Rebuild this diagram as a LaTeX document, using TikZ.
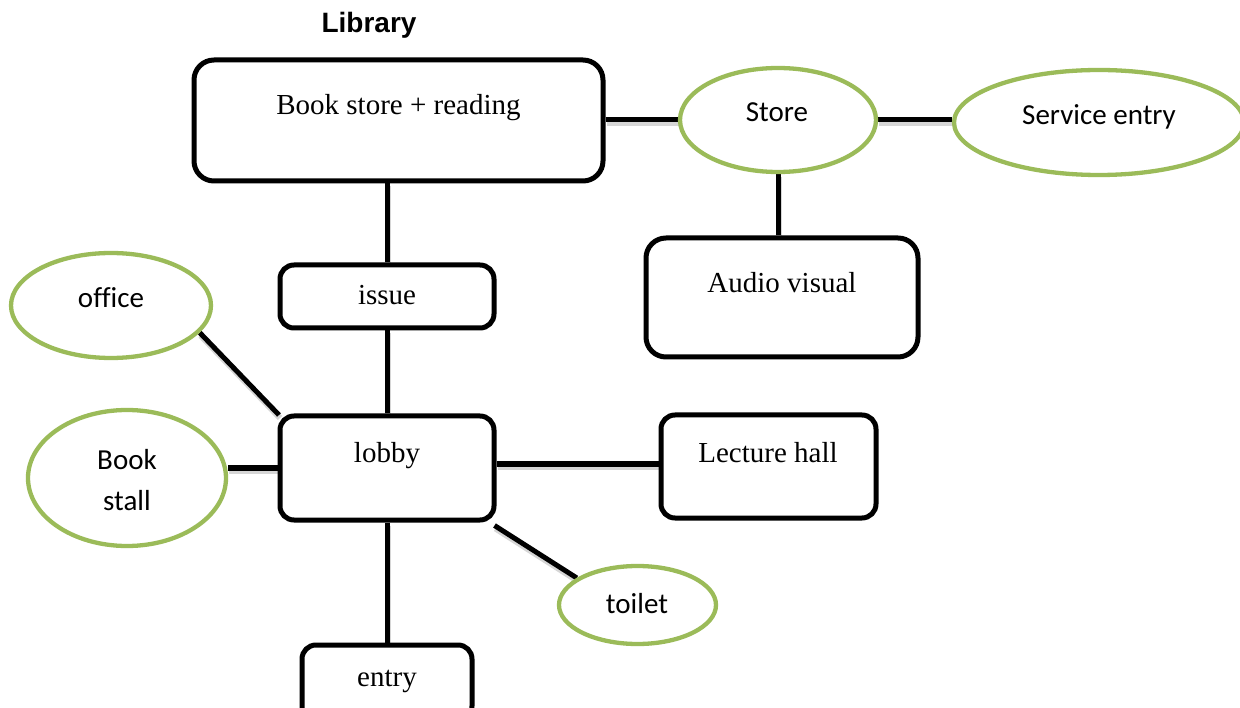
\documentclass[tikz,border=0pt]{standalone}
\usepackage{fontspec}
\setmainfont{Liberation Serif}
\newfontfamily\ovalfont[Ligatures=NoCommon]{Carlito}
\newfontfamily\titlefont{Liberation Sans}
\usetikzlibrary{shapes.geometric}
\definecolor{ovalgreen}{HTML}{9BBB59}
\pgfdeclarelayer{links}
\pgfsetlayers{links,main}
\begin{document}
\begin{tikzpicture}[x=1pt,y=-1pt,
  roombox/.style={draw=black, line width=5pt, rounded corners=14pt, inner sep=0pt, fill=white},
  bigbox/.style={roombox, rounded corners=20pt},
  oval/.style={ellipse, draw=ovalgreen, line width=4.3pt, inner sep=0pt, fill=white},
  boxtext/.style={anchor=base, inner sep=0pt, font=\fontsize{29}{35}\selectfont},
  ovaltext/.style={anchor=base, inner sep=0pt, font=\ovalfont\fontsize{29}{35}\selectfont},
  link/.style={draw=black, line width=5pt,
    preaction={draw=black!16, line width=6pt, transform canvas={shift={(1pt,-3pt)}}}}
]
\useasboundingbox (0,0) rectangle (1240,708);
\clip (0,0) rectangle (1240,708);

% title
\node[anchor=base, inner sep=0pt, font=\titlefont\bfseries\fontsize{28}{34}\selectfont] (title) at (369,33) {Library};

% rooms
\node[bigbox, minimum width=409pt, minimum height=121pt] (bsr) at (398.5,120.5) {};
\node[roombox, minimum width=214pt, minimum height=63pt] (issue) at (387,296.5) {};
\node[roombox, minimum width=214pt, minimum height=104pt] (lobby) at (387,468) {};
\node[bigbox, minimum width=272pt, minimum height=119pt] (audio) at (782,297.5) {};
\node[roombox, minimum width=215pt, minimum height=103pt] (lecture) at (768.5,466.5) {};
\node[roombox, minimum width=170pt, minimum height=75pt] (entry) at (387,682.5) {};

% ovals
\node[oval, minimum width=196pt, minimum height=104pt] (store) at (778,120) {};
\node[oval, minimum width=290pt, minimum height=105pt] (service) at (1099,122.5) {};
\node[oval, minimum width=200pt, minimum height=105pt] (office) at (111,305.5) {};
\node[oval, minimum width=198pt, minimum height=136pt] (bookstall) at (127,478) {};
\node[oval, minimum width=157pt, minimum height=78pt] (toilet) at (637.5,605) {};

% labels
\node[boxtext] (tbsr) at (398.5,115) {Book store + reading};
\node[boxtext] (tissue) at (387,305) {issue};
\node[boxtext] (tlobby) at (387,462) {lobby};
\node[boxtext] (taudio) at (782,293) {Audio visual};
\node[boxtext] (tlecture) at (768,462) {Lecture hall};
\node[boxtext] (tentry) at (387,686) {entry};
\node[ovaltext] (tstore) at (777,122) {Store};
\node[ovaltext] (tservice) at (1099,125) {Service entry};
\node[ovaltext] (toffice) at (111,308) {office};
\node[ovaltext] (tbook) at (127,470) {Book};
\node[ovaltext] (tstall) at (127,510) {stall};
\node[ovaltext] (ttoilet) at (637,613) {toilet};

% connectors, kept beneath the rooms
\begin{pgfonlayer}{links}
\draw[link] (bsr.east |- store.west) -- (store.west);
\draw[link] (store.east) -- (store.east -| service.west);
\draw[link] (store.south) -- (store.south |- audio.north);
\draw[link] (issue.north |- bsr.south) -- (issue.north);
\draw[link] (issue.south) -- (lobby.north);
\draw[link] (office.-17) -- ([shift={(1.5pt,-1.5pt)}]lobby.north west);
\draw[link] (lobby.west) -- (lobby.west -| bookstall.east);
\draw[link] ([yshift=4pt]lobby.east) -- ([yshift=4pt]lobby.east -| lecture.west);
\draw[link] ([shift={(-2pt,-3pt)}]lobby.south east) -- (toilet.156);
\draw[link] (lobby.south) -- (entry.north);
\end{pgfonlayer}
\end{tikzpicture}
\end{document}
